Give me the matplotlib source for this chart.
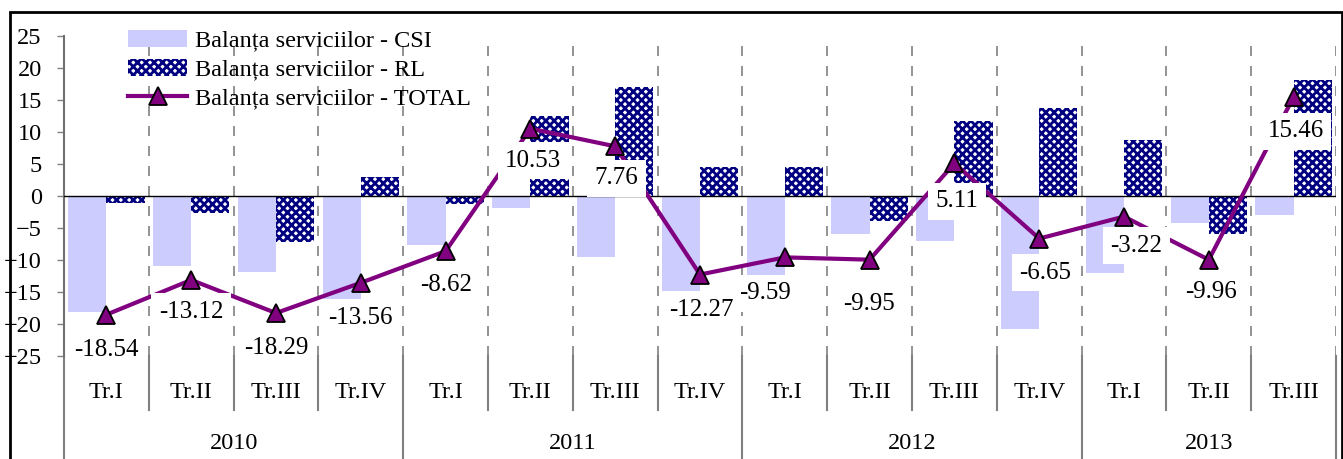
import matplotlib
matplotlib.use("Agg")
import matplotlib.pyplot as plt
import matplotlib.transforms as mtransforms
from matplotlib.patches import Rectangle
import numpy as np

plt.rcParams['font.family'] = ['Liberation Serif', 'DejaVu Serif']
plt.rcParams['hatch.linewidth'] = 2.0

# Data
quarters = ['Tr.I', 'Tr.II', 'Tr.III', 'Tr.IV',
            'Tr.I', 'Tr.II', 'Tr.III', 'Tr.IV',
            'Tr.I', 'Tr.II', 'Tr.III', 'Tr.IV',
            'Tr.I', 'Tr.II', 'Tr.III']
years = ['2010', '2011', '2012', '2013']
quarters_per_year = [4, 4, 4, 3]

csi = [-18.1, -10.9, -11.8, -16.8, -7.6, -1.9, -9.5, -17.1,
       -12.4, -6.0, -7.0, -20.8, -12.0, -4.2, -2.9]
rl = [-1.1, -2.7, -7.2, 3.0, -1.3, 12.5, 17.1, 4.5,
      4.5, -3.9, 11.7, 13.8, 8.7, -6.0, 18.2]
total = [-18.54, -13.12, -18.29, -13.56, -8.62, 10.53, 7.76, -12.27,
         -9.59, -9.95, 5.11, -6.65, -3.22, -9.96, 15.46]

# label nudges in pixels (dx, dy) relative to the marker
label_dx = [0, 0, 0, 0, 1, 3, 1, 1, -20, -1, 3, 6, 12, 2, 2]
label_dy = [-35, -32, -35, -35, -34, -32, -32, -35, -36, -44, -38, -34, -29, -32, -34]

W, H = 1343, 459
fig = plt.figure(figsize=(W / 100, H / 100), dpi=100)
ax = fig.add_axes([64 / W, (H - 356) / H, (1336 - 64) / W, 320 / H])

x = np.arange(len(quarters))
bw = 0.45

b1 = ax.bar(x - bw, csi, width=bw, align='edge', color='#CCCCFF',
            linewidth=0, zorder=2, label='Balanța serviciilor - CSI')
b2 = ax.bar(x, rl, width=bw, align='edge', color='white', edgecolor='#000080',
            hatch='xxxx', linewidth=0, zorder=2, label='Balanța serviciilor - RL')
ln, = ax.plot(x, total, color='#800080', linewidth=3, marker='^', markersize=13,
              markerfacecolor='#800080', markeredgecolor='black', markeredgewidth=1.3,
              zorder=4, label='Balanța serviciilor - TOTAL')

for i, v in enumerate(total):
    ax.annotate(f'{v:.2f}', (x[i], v), xytext=(label_dx[i], label_dy[i]),
                textcoords='offset pixels', ha='center', va='center',
                fontsize=18, zorder=5 + (i == 7),
                bbox=dict(boxstyle='square,pad=0.3', fc='white', ec='none'))

ax.axhline(0, color='black', linewidth=1, zorder=3)

ax.set_xlim(-0.5, len(quarters) - 0.5)
ax.set_ylim(-25, 25)
ax.set_yticks(np.arange(-25, 26, 5))
ax.tick_params(axis='y', labelsize=17.5, length=5, width=1, color='#808080', pad=11)
ax.set_xticks([])

for s in ['top', 'right', 'bottom']:
    ax.spines[s].set_visible(False)
ax.spines['left'].set_color('#707070')
ax.spines['left'].set_linewidth(1.5)

# dashed vertical gridlines at category boundaries
for b in np.arange(0.5, len(quarters) + 0.5, 1.0):
    ax.axvline(b, color='#808080', linewidth=1.2, dashes=(6, 6), zorder=1)

# two level category axis
trans = mtransforms.blended_transform_factory(ax.transData, ax.transAxes)
year_bounds = np.concatenate([[0], np.cumsum(quarters_per_year)]) - 0.5
for b in np.arange(-0.5, len(quarters) + 0.5, 1.0):
    bottom = -0.325 if b in year_bounds else -0.169
    ax.plot([b, b], [0, bottom], transform=trans, color='#808080',
            linewidth=1.5, clip_on=False)
for i, q in enumerate(quarters):
    ax.text(x[i], -0.115, q, transform=trans, ha='center', va='center', fontsize=17.5)
for j, yr in enumerate(years):
    mid = (year_bounds[j] + year_bounds[j + 1]) / 2
    ax.text(mid, -0.272, yr, transform=trans, ha='center', va='center', fontsize=17.5)

leg = ax.legend(handles=[b1, b2, ln], loc='upper left', bbox_to_anchor=(0.043, 1.05),
                frameon=False, fontsize=17.5, handlelength=2.4, handleheight=0.7,
                handletextpad=0.35, labelspacing=0.28, borderaxespad=0)

# outer chart frame
fig.patches.append(Rectangle((9.5 / W, -0.05), (1342 - 9.5) / W, 1.05 - 12.5 / H,
                             transform=fig.transFigure, fill=False,
                             edgecolor='black', linewidth=2))

fig.savefig('out.png', dpi=100)
